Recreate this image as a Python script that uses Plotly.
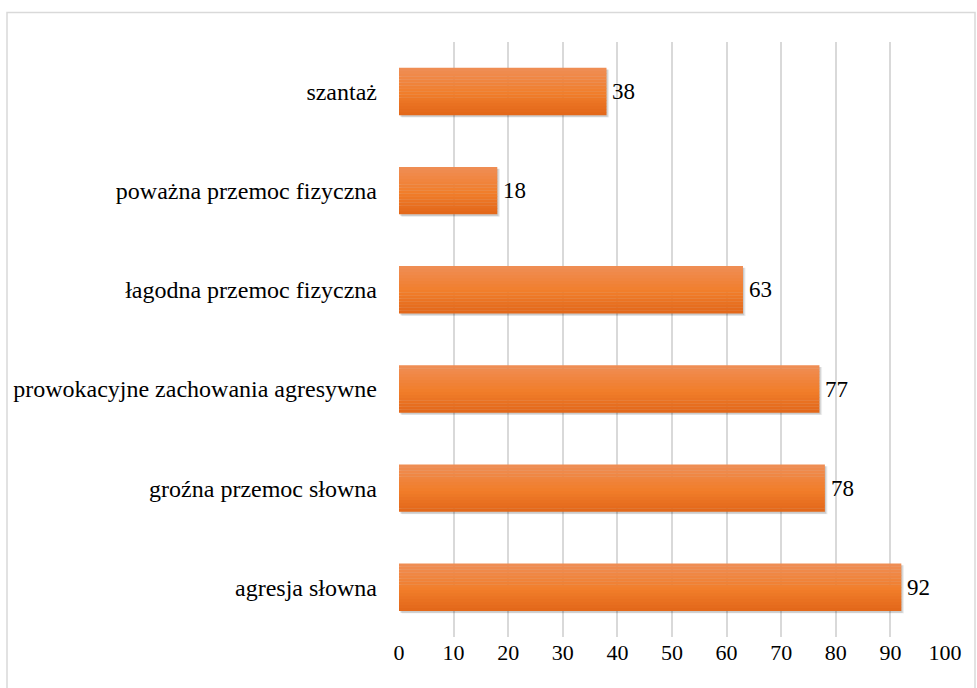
import plotly.graph_objects as go

categories = ["agresja słowna", "groźna przemoc słowna", "prowokacyjne zachowania agresywne",
              "łagodna przemoc fizyczna", "poważna przemoc fizyczna", "szantaż"]
values = [92, 78, 77, 63, 18, 38]
tick_vals = [0, 10, 20, 30, 40, 50, 60, 70, 80, 90, 100]

W, H = 977, 688
ML, MR, MT, MB = 399, 32, 42, 51
FONT = "'Liberation Serif', 'Times New Roman', serif"

fig = go.Figure()

pos = list(range(len(categories)))
bar_w = 0.475

# vertical gradient: stops from bottom (dark) to top (light)
stops = [(0.0, (0xE2, 0x66, 0x19)), (0.45, (0xF1, 0x7D, 0x2A)), (1.0, (0xEF, 0x8E, 0x55))]


def grad(t):
    for (t0, c0), (t1, c1) in zip(stops[:-1], stops[1:]):
        if t <= t1:
            f = (t - t0) / (t1 - t0)
            return "rgb(%d,%d,%d)" % tuple(round(a + (b - a) * f) for a, b in zip(c0, c1))
    return "rgb(%d,%d,%d)" % stops[-1][1]


n = 16
bw = bar_w / n
for k, a in enumerate([0.05, 0.07, 0.09]):
    fig.add_trace(go.Bar(y=pos, x=values, orientation="h",
                         width=bar_w + 0.01 - k * 0.004, offset=-bar_w / 2 - 0.025 + k * 0.004,
                         base=[0.5 - k * 0.15] * len(values),
                         marker=dict(color=f"rgba(0,0,0,{a})", line=dict(width=0)),
                         hoverinfo="skip", showlegend=False))
for i in range(n):
    off = -bar_w / 2 + i * bw
    fig.add_trace(go.Bar(y=pos, x=values, orientation="h",
                         width=bw + 0.003, offset=off,
                         marker=dict(color=grad((i + 0.5) / n), line=dict(width=0)),
                         hoverinfo="skip", showlegend=False))

for p, v in zip(pos, values):
    fig.add_annotation(x=v, y=p, text=str(v), showarrow=False, xanchor="left",
                       yanchor="middle", xshift=4,
                       font=dict(family=FONT, size=23, color="#000"))

pw = W - ML - MR
ph = H - MT - MB
fig.add_shape(type="rect", xref="paper", yref="paper",
              x0=(7 - ML) / pw, x1=(975 - ML) / pw,
              y0=-(MB + 20) / ph, y1=(ph + MT - 12.5) / ph,
              line=dict(color="#D9D9D9", width=1.5), fillcolor="rgba(0,0,0,0)", layer="below")

fig.update_layout(
    width=W, height=H, margin=dict(l=ML, r=MR, t=MT, b=MB),
    barmode="overlay", plot_bgcolor="white", paper_bgcolor="white",
    font=dict(family=FONT, size=22, color="#000"),
    xaxis=dict(range=[0, 100], tickvals=tick_vals, showgrid=True, gridcolor="#D9D9D9",
               gridwidth=1.5, zeroline=False, showline=False, ticks="",
               tickfont=dict(family=FONT, size=22, color="#000"), fixedrange=True),
    yaxis=dict(range=[-0.5, len(categories) - 0.5], tickvals=pos,
               ticktext=categories, showgrid=False, zeroline=False, showline=False,
               ticks="", ticklabelstandoff=21,
               tickfont=dict(family=FONT, size=24, color="#000"), fixedrange=True),
)

fig.write_html("out.html")
